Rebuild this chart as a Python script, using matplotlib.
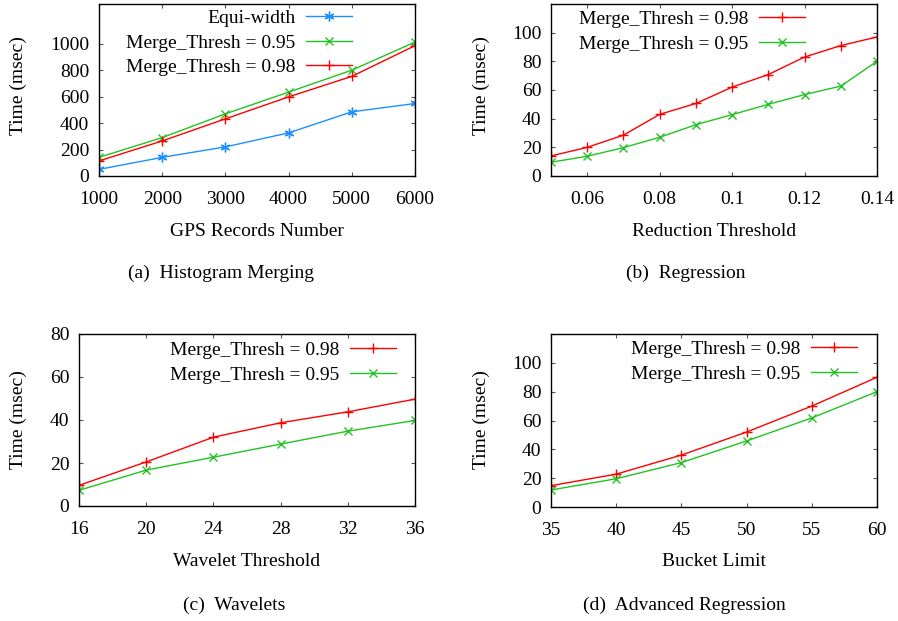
import numpy as np
import matplotlib
matplotlib.use("Agg")
import matplotlib.pyplot as plt

plt.rcParams['font.family'] = ['Liberation Serif', 'DejaVu Serif']

W, H = 898, 621

# (a) histogram merging
gps_records = [1000, 2000, 3000, 4000, 5000, 6000]
equi_width = [50, 141, 220, 326, 485, 548]
hm_095 = [141, 290, 470, 634, 800, 1012]
hm_098 = [114, 265, 432, 598, 753, 985]

# (b) regression
reduction_thr = [0.05, 0.06, 0.07, 0.08, 0.09, 0.10, 0.11, 0.12, 0.13, 0.14]
reg_098 = [14, 20, 28.5, 43, 50.6, 62, 70.8, 83, 91, 97]
reg_095 = [9.6, 13.8, 19.8, 27, 35.8, 42.8, 50, 56.8, 62.7, 80]

# (c) wavelets
wavelet_thr = [16, 20, 24, 28, 32, 36]
wav_098 = [9.6, 20.5, 32, 38.7, 43.8, 49.7]
wav_095 = [7.3, 16.7, 22.7, 28.8, 34.8, 39.8]

# (d) advanced regression
bucket_limit = [35, 40, 45, 50, 55, 60]
adv_098 = [14.8, 22.8, 36, 52, 70, 90]
adv_095 = [11.8, 19.6, 30.8, 45.8, 61.8, 80]

RED = '#ff0000'
GREEN = '#22c322'
BLUE = '#1e8fff'
FS = 14
STY_RED = dict(color=RED, lw=1, marker='+', ms=7, mew=1)
STY_GREEN = dict(color=GREEN, lw=1, marker='x', ms=6, mew=1)
STY_BLUE = dict(color=BLUE, lw=1, marker=(6, 2, 0), ms=7, mew=1)


def px_axes(fig, left, top, right, bottom):
    return fig.add_axes([left / W, 1 - bottom / H, (right - left) / W, (bottom - top) / H])


def style(ax):
    ax.tick_params(direction='in', length=3, width=0.8, top=True, right=True,
                   labelsize=FS, colors='#555555', labelcolor='black')
    ax.tick_params(axis='x', pad=11)
    ax.tick_params(axis='y', pad=7)
    for s in ax.spines.values():
        s.set_linewidth(1.0)


def leg(ax, anchor):
    ax.legend(loc='upper right', bbox_to_anchor=anchor, frameon=False, markerfirst=False,
              fontsize=FS, handlelength=2.35, handletextpad=0.55, labelspacing=0.35,
              borderaxespad=0, borderpad=0)


def ftext(x, y, s, **kw):
    fig.text(x / W, 1 - y / H, s, fontsize=FS, ha='center', va='center', **kw)


fig = plt.figure(figsize=(W / 100, H / 100), dpi=100)

# (a)
ax = px_axes(fig, 99, 4, 415, 176)
ax.plot(gps_records, equi_width, label='Equi-width', **STY_BLUE)
ax.plot(gps_records, hm_095, label='Merge_Thresh = 0.95', **STY_GREEN)
ax.plot(gps_records, hm_098, label='Merge_Thresh = 0.98', **STY_RED)
ax.set_xlim(1000, 6000)
ax.set_ylim(0, 1300)
ax.set_xticks(gps_records)
ax.set_yticks(np.arange(0, 1001, 200))
style(ax)
leg(ax, (0.80, 0.968))
ftext(18, 86, 'Time (msec)', rotation=90)
ftext(257, 231, 'GPS Records Number')
ftext(221, 273, '(a)  Histogram Merging')

# (b)
ax = px_axes(fig, 551, 4, 877, 176)
ax.plot(reduction_thr, reg_098, label='Merge_Thresh = 0.98', **STY_RED)
ax.plot(reduction_thr, reg_095, label='Merge_Thresh = 0.95', **STY_GREEN)
ax.set_xlim(0.05, 0.14)
ax.set_ylim(0, 120)
ax.set_xticks([0.06, 0.08, 0.10, 0.12, 0.14])
ax.set_xticklabels(['0.06', '0.08', '0.1', '0.12', '0.14'])
ax.set_yticks(np.arange(0, 101, 20))
style(ax)
leg(ax, (0.779, 0.962))
ftext(481, 86, 'Time (msec)', rotation=90)
ftext(714, 231, 'Reduction Threshold')
ftext(686, 273, '(b)  Regression')

# (c)
ax = px_axes(fig, 79, 334, 415, 506)
ax.plot(wavelet_thr, wav_098, label='Merge_Thresh = 0.98', **STY_RED)
ax.plot(wavelet_thr, wav_095, label='Merge_Thresh = 0.95', **STY_GREEN)
ax.set_xlim(16, 36)
ax.set_ylim(0, 80)
ax.set_xticks(wavelet_thr)
ax.set_yticks(np.arange(0, 81, 20))
style(ax)
leg(ax, (0.943, 0.956))
ftext(18, 420, 'Time (msec)', rotation=90)
ftext(247, 562, 'Wavelet Threshold')
ftext(234, 605, '(c)  Wavelets')

# (d)
ax = px_axes(fig, 551, 334, 877, 507)
ax.plot(bucket_limit, adv_098, label='Merge_Thresh = 0.98', **STY_RED)
ax.plot(bucket_limit, adv_095, label='Merge_Thresh = 0.95', **STY_GREEN)
ax.set_xlim(35, 60)
ax.set_ylim(0, 120)
ax.set_xticks(bucket_limit)
ax.set_yticks(np.arange(0, 101, 20))
style(ax)
leg(ax, (0.939, 0.962))
ftext(481, 420, 'Time (msec)', rotation=90)
ftext(714, 562, 'Bucket Limit')
ftext(684, 605, '(d)  Advanced Regression')

fig.savefig('out.png', dpi=100)
